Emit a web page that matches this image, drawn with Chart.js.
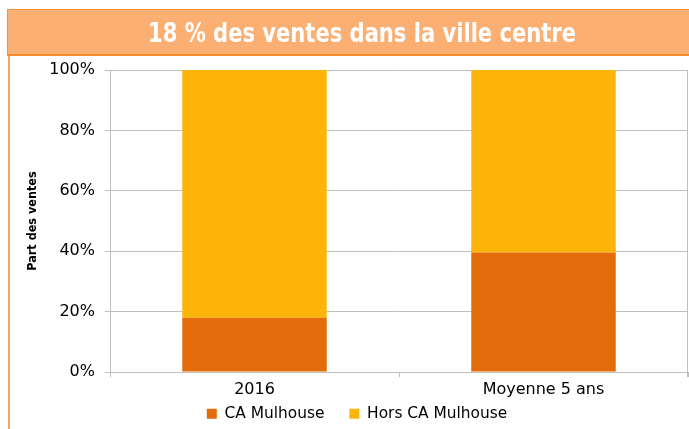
<!DOCTYPE html>
<html><head><meta charset="utf-8">
<script src="https://cdn.jsdelivr.net/npm/chart.js@4/dist/chart.umd.min.js"></script>
<style>
html,body{margin:0;padding:0;background:#fff;}
#wrap{position:relative;width:689px;height:429px;overflow:hidden;}
#title{position:absolute;left:7px;top:9px;width:690px;height:47px;background:#FBAF72;border:1px solid #F7923A;border-bottom:2px solid #F58A2E;
 box-sizing:border-box;text-align:left;}
#title span{position:absolute;left:147px;top:0;white-space:nowrap;color:#fff;font-family:'DejaVu Sans',sans-serif;font-stretch:condensed;font-weight:bold;font-size:26px;line-height:47px;transform-origin:0 50%;}
#lline{position:absolute;left:8px;top:56px;width:2px;height:373px;background:#F9A665;}
canvas{position:absolute;left:0;top:0;}
</style></head>
<body><div id="wrap"><canvas id="c" width="689" height="429"></canvas><div id="title"><span id="tt">18 % des ventes dans la ville centre</span></div><div id="lline"></div></div>
<script>
const categories = ['2016', 'Moyenne 5 ans'];
const seriesNames = ['CA Mulhouse', 'Hors CA Mulhouse'];
const caMulhouse = [18, 39.6];
const horsCaMulhouse = [82, 60.4];
const yTicks = [0, 20, 40, 60, 80, 100];

// fit title text to the reference width
(function(){
  const s = document.getElementById('tt');
  const w = s.getBoundingClientRect().width;
  s.style.left = '140px';
  s.style.transform = 'scaleX(' + (428 / w) + ')';
})();

const rightBorder = {
  id: 'rightBorder',
  afterDraw(chart) {
    const {ctx, chartArea} = chart;
    ctx.save();
    ctx.strokeStyle = '#BFBFBF';
    ctx.lineWidth = 1;
    ctx.beginPath();
    ctx.moveTo(chartArea.right - 0.5, chartArea.top);
    ctx.lineTo(chartArea.right - 0.5, chartArea.bottom + 5);
    ctx.stroke();
    ctx.restore();
  }
};

// move the legend up closer to the axis labels and slightly right (layout tweak)
const legendShift = {
  id: 'legendShift',
  afterLayout(chart) {
    const l = chart.legend;
    if (!l) return;
    const dy = -19, dx = 13;
    l.top += dy; l.bottom += dy;
    l.left += dx; l.right += dx;
  }
};

const tickFont = {family: "'DejaVu Sans', sans-serif", size: 16};

new Chart(document.getElementById('c'), {
  type: 'bar',
  data: {
    labels: categories,
    datasets: [
      {label: seriesNames[0], data: caMulhouse, backgroundColor: '#E46C0A', categoryPercentage: 1, barPercentage: 0.5},
      {label: seriesNames[1], data: horsCaMulhouse, backgroundColor: '#FDB40A', categoryPercentage: 1, barPercentage: 0.5}
    ]
  },
  plugins: [rightBorder, legendShift],
  options: {
    responsive: false,
    animation: false,
    devicePixelRatio: 1,
    layout: {padding: {top: 70, right: 1, left: 0, bottom: -21.5}},
    plugins: {
      legend: {
        position: 'bottom',
        labels: {boxWidth: 10, boxHeight: 10, padding: 25, color: '#000', font: {family: "'DejaVu Sans', sans-serif", size: 15.4}}
      },
      tooltip: {enabled: false}
    },
    scales: {
      x: {
        stacked: true,
        grid: {display: true, drawOnChartArea: false, offset: true, color: '#BFBFBF', tickLength: 5},
        border: {color: '#BFBFBF'},
        ticks: {color: '#000', padding: 3, font: tickFont},
        afterFit(s) { s.height = 28; }
      },
      y: {
        stacked: true,
        min: 0, max: 100,
        afterBuildTicks(s) { s.ticks = yTicks.map(v => ({value: v})); },
        grid: {color: '#BFBFBF', tickLength: 5},
        border: {color: '#BFBFBF'},
        ticks: {color: '#000', padding: 10, font: tickFont, callback: v => v + '%'},
        title: {display: true, text: 'Part des ventes', color: '#000', padding: {top: 25, bottom: 0}, font: {family: "'DejaVu Sans Condensed','DejaVu Sans',sans-serif", weight: 'bold', size: 12.5}},
        afterFit(s) { s.width = 110; }
      }
    }
  }
});
</script></body></html>
